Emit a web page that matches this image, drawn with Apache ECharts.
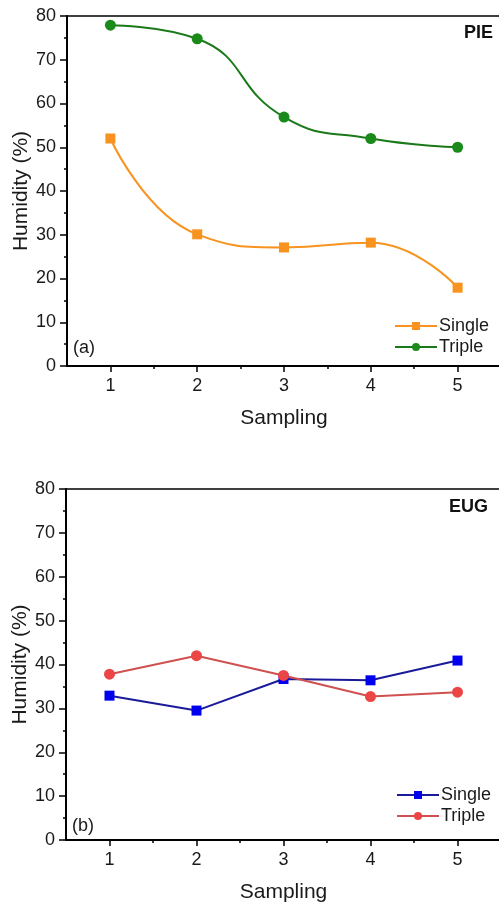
<!DOCTYPE html>
<html><head><meta charset="utf-8">
<script src="https://cdn.jsdelivr.net/npm/echarts@6/dist/echarts.min.js"></script>
<style>html,body{margin:0;padding:0;background:#fff}#c{width:499px;height:906px}</style>
</head><body><div id="c"></div>
<script>
const samplings = [1, 2, 3, 4, 5];
const yTicks = [0, 10, 20, 30, 40, 50, 60, 70, 80];
const pieSingle = [52, 30.1, 27.1, 28.2, 17.9];
const pieTriple = [77.9, 74.8, 56.9, 52.0, 50.0];
const eugSingle = [32.9, 29.5, 36.7, 36.4, 40.9];
const eugTriple = [37.8, 42.0, 37.5, 32.7, 33.7];
const panelTitles = ['PIE', 'EUG'];
const panelLabels = ['(a)', '(b)'];
const seriesNames = ['Single', 'Triple'];

const font = 'Liberation Sans, Arial, sans-serif';
const txt = '#1a1a1a';
const pairs = (arr) => arr.map((v, i) => [samplings[i], v]);

const grids = [
  {left: 67, top: 16, width: 434, height: 350},
  {left: 66, top: 489, width: 435, height: 351}
];

function xAxisMain(gi) {
  return {
    type: 'value', gridIndex: gi, min: 0.5, max: 5.5, position: 'bottom',
    name: 'Sampling', nameLocation: 'middle', nameGap: 42, nameMoveOverlap: false,
    nameTextStyle: {fontFamily: font, fontSize: 21, color: txt},
    axisLine: {lineStyle: {color: '#000', width: 2}},
    axisTick: {customValues: samplings, length: 6, inside: false, lineStyle: {color: '#000', width: 1.5}},
    axisLabel: {customValues: samplings, fontFamily: font, fontSize: 18, color: txt, margin: 11},
    splitLine: {show: false}
  };
}
function xAxisTop(gi) {
  return {
    type: 'value', gridIndex: gi, min: 0.5, max: 5.5, position: 'top',
    axisLine: {show: true, lineStyle: {color: '#000', width: 1.5}},
    axisTick: {show: false}, axisLabel: {show: false}, splitLine: {show: false}
  };
}
function xAxisMinor(gi) {
  return {
    type: 'value', gridIndex: gi, min: 0.5, max: 5.5, position: 'bottom',
    axisLine: {show: false},
    axisTick: {customValues: [1.5, 2.5, 3.5, 4.5], length: 3, lineStyle: {color: '#000', width: 1.5}},
    axisLabel: {show: false}, splitLine: {show: false}
  };
}
function yAxis(gi) {
  return {
    type: 'value', gridIndex: gi, min: 0, max: 80, interval: 10,
    name: 'Humidity (%)', nameLocation: 'middle', nameGap: 35, nameMoveOverlap: false,
    nameTextStyle: {fontFamily: font, fontSize: 21, color: txt},
    axisLine: {show: true, lineStyle: {color: '#000', width: 2}},
    axisTick: {show: true, length: 7, lineStyle: {color: '#000', width: 1.5}},
    minorTick: {show: true, splitNumber: 2, length: 3, lineStyle: {color: '#000', width: 1.5}},
    axisLabel: {fontFamily: font, fontSize: 18, color: txt, margin: 11, customValues: yTicks},
    splitLine: {show: false}, minorSplitLine: {show: false}
  };
}

const legendText = {fontFamily: font, fontSize: 18, color: txt, lineHeight: 18, padding: [0, 0, 0, -3]};

const option = {
  animation: false,
  backgroundColor: '#fff',
  grid: grids.map(g => Object.assign({show: false, outerBoundsMode: 'none', containLabel: false}, g)),
  xAxis: [xAxisMain(0), xAxisMinor(0), xAxisTop(0), xAxisMain(1), xAxisMinor(1), xAxisTop(1)],
  yAxis: [yAxis(0), yAxis(1)],
  legend: [
    {orient: 'vertical', left: 389, top: 312, itemWidth: 42, itemHeight: 10, itemGap: 3,
     textStyle: legendText, data: ['Single', 'Triple']},
    {orient: 'vertical', left: 391, top: 781, itemWidth: 42, itemHeight: 10, itemGap: 3,
     textStyle: legendText, data: ['Single ', 'Triple ']}
  ],
  series: [
    {name: seriesNames[0], type: 'line', xAxisIndex: 0, yAxisIndex: 0, data: pairs(pieSingle), smooth: 0.5,
     symbol: 'rect', symbolSize: 10, itemStyle: {color: '#f7931e'}, lineStyle: {color: '#f7931e', width: 2}},
    {name: seriesNames[1], type: 'line', xAxisIndex: 0, yAxisIndex: 0, data: pairs(pieTriple), smooth: 0.5,
     symbol: 'circle', symbolSize: 11, itemStyle: {color: '#1a8a1a'}, lineStyle: {color: '#1a7a1a', width: 2}},
    {name: seriesNames[0] + ' ', type: 'line', xAxisIndex: 3, yAxisIndex: 1, data: pairs(eugSingle),
     symbol: 'rect', symbolSize: 10, itemStyle: {color: '#0000ee'}, lineStyle: {color: '#1a1a9a', width: 2}},
    {name: seriesNames[1] + ' ', type: 'line', xAxisIndex: 3, yAxisIndex: 1, data: pairs(eugTriple),
     symbol: 'circle', symbolSize: 11, itemStyle: {color: '#ec4545'}, lineStyle: {color: '#d05050', width: 2}}
  ],
  graphic: [
    {type: 'text', right: 6, top: 24, style: {text: panelTitles[0], font: 'bold 18px ' + font, fill: '#111'}},
    {type: 'text', right: 11, top: 498, style: {text: panelTitles[1], font: 'bold 18px ' + font, fill: '#111'}},
    {type: 'text', left: 73, top: 339, style: {text: panelLabels[0], font: '18px ' + font, fill: txt}},
    {type: 'text', left: 72, top: 817, style: {text: panelLabels[1], font: '18px ' + font, fill: txt}}
  ]
};
const chart = echarts.init(document.getElementById('c'), null, {renderer: 'canvas'});
chart.setOption(option);
</script></body></html>
